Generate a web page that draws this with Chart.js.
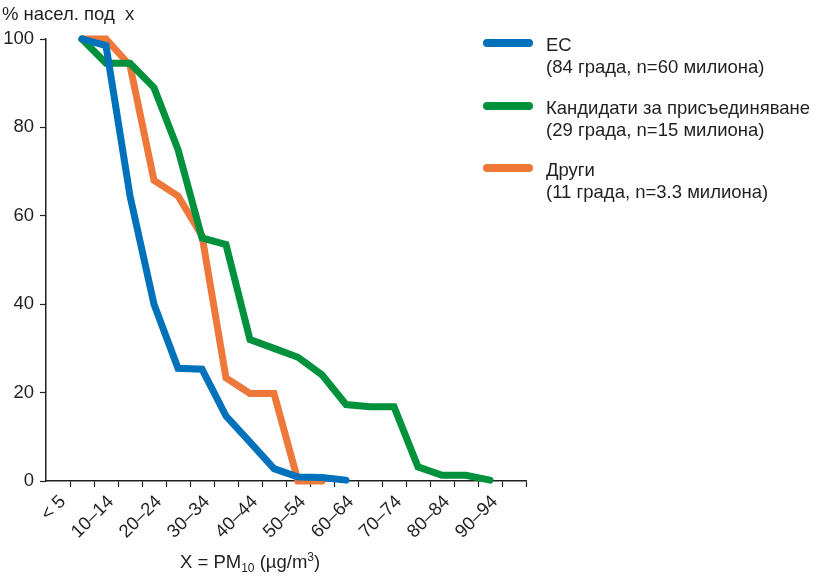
<!DOCTYPE html>
<html lang="bg">
<head>
<meta charset="utf-8">
<script src="https://cdn.jsdelivr.net/npm/chart.js@4.4.1/dist/chart.umd.min.js"></script>
<style>
  body { margin: 0; background: #fff; }
  #wrap { position: relative; width: 819px; height: 576px; font-family: "Liberation Sans", Arial, sans-serif; color: #231f20; }
  #chart { position: absolute; left: 0; top: 0; }
  #yTitle { position: absolute; left: 2px; top: 3px; font-size: 18.5px; white-space: pre; }
  #xTitle { position: absolute; left: 180px; top: 551px; font-size: 18.5px; line-height: 22px; white-space: nowrap; }
  #xTitle sub, #xTitle sup { font-size: 12px; line-height: 0; position: relative; vertical-align: baseline; }
  #xTitle sub { top: 4px; }
  #xTitle sup { top: -7px; }
  #legend { position: absolute; left: 483px; top: 34px; }
  .item { position: relative; height: 62.5px; }
  .swatch { position: absolute; left: 0; top: 5px; width: 50px; height: 8px; border-radius: 4px; }
  .txt { position: absolute; left: 63px; top: 0; font-size: 18.5px; line-height: 22px; white-space: nowrap; }
</style>
</head>
<body>
<div id="wrap">
  <canvas id="chart" width="819" height="576"></canvas>
  <div id="yTitle">% насел. под  x</div>
  <div id="xTitle">X = PM<sub>10</sub> (µg/m<sup>3</sup>)</div>
  <div id="legend"></div>
</div>
<script>
// PM10 classes (midpoints, µg/m3): 5-9 ... 90-94
const pmClassMid = [7.5, 12.5, 17.5, 22.5, 27.5, 32.5, 37.5, 42.5, 47.5, 52.5, 57.5, 62.5, 67.5, 72.5, 77.5, 82.5, 87.5, 92.5];
const tickLabels = ['< 5', '10–14', '20–24', '30–34', '40–44', '50–54', '60–64', '70–74', '80–84', '90–94'];

const seriesNames = ['ЕС', 'Кандидати за присъединяване', 'Други'];
const seriesNotes = ['(84 града, n=60 милиона)', '(29 града, n=15 милиона)', '(11 града, n=3.3 милиона)'];
const seriesColors = ['#0072bb', '#00913d', '#ee773a'];

// % of population under x
const euValues = [100, 98.5, 64.5, 40, 25.5, 25.3, 14.7, 8.8, 2.8, 0.9, 0.8, 0.2];
const candidateValues = [100, 94.5, 94.5, 89, 75, 55, 53.5, 32, 30, 28, 24, 17.3, 16.8, 16.8, 3.2, 1.3, 1.3, 0.2];
const otherValues = [100, 100, 94, 68, 64.5, 55.5, 23.3, 19.8, 19.8, 0, 0];

const allValues = [euValues, candidateValues, otherValues];
const axisColor = '#231f20';
const tickFont = {family: '"Liberation Sans", Arial, sans-serif', size: 18.5};

function points(values) {
    return values.map((v, i) => ({x: pmClassMid[i], y: v}));
}

const htmlLegend = {
    id: 'htmlLegend',
    afterUpdate(chart) {
        const box = document.querySelector('#legend');
        box.innerHTML = '';
        chart.data.datasets.forEach((ds, i) => {
            const item = document.createElement('div');
            item.className = 'item';
            const sw = document.createElement('div');
            sw.className = 'swatch';
            sw.style.background = ds.borderColor;
            const txt = document.createElement('div');
            txt.className = 'txt';
            txt.innerHTML = ds.label + '<br>' + seriesNotes[i];
            item.appendChild(sw);
            item.appendChild(txt);
            box.appendChild(item);
        });
    }
};

window.addEventListener('load', () => {
    new Chart(document.querySelector('#chart'), {
        type: 'line',
        data: {
            datasets: allValues.map((vals, i) => ({
                label: seriesNames[i],
                data: points(vals),
                borderColor: seriesColors[i],
                backgroundColor: seriesColors[i],
                borderWidth: 7,
                borderCapStyle: 'round',
                borderJoinStyle: 'miter',
                pointRadius: 0,
                tension: 0,
                clip: false
            }))
        },
        options: {
            responsive: false,
            animation: false,
            layout: {padding: {left: 0, top: 39, right: 293, bottom: 0}},
            plugins: {legend: {display: false}, tooltip: {enabled: false}},
            scales: {
                x: {
                    type: 'linear',
                    min: 0,
                    max: 100,
                    afterFit: s => { s.height = 95; },
                    border: {color: axisColor, width: 1.5},
                    grid: {
                        drawOnChartArea: false,
                        tickLength: 6,
                        tickWidth: 1.2,
                        tickColor: c => c.tick && c.tick.value === 0 ? 'rgba(0,0,0,0)' : axisColor
                    },
                    ticks: {
                        stepSize: 5,
                        autoSkip: false,
                        minRotation: 45,
                        maxRotation: 45,
                        labelOffset: -7,
                        padding: 4,
                        color: axisColor,
                        font: tickFont,
                        callback: v => (v - 5) % 10 === 0 ? tickLabels[(v - 5) / 10] : ''
                    }
                },
                y: {
                    min: 0,
                    max: 100,
                    afterFit: s => { s.width = 46; },
                    border: {color: axisColor, width: 1.5},
                    grid: {drawOnChartArea: false, tickLength: 6, tickWidth: 1.2, tickColor: axisColor},
                    ticks: {
                        stepSize: 20,
                        padding: 6,
                        color: axisColor,
                        font: tickFont
                    }
                }
            }
        },
        plugins: [htmlLegend]
    });
});
</script>
</body>
</html>
